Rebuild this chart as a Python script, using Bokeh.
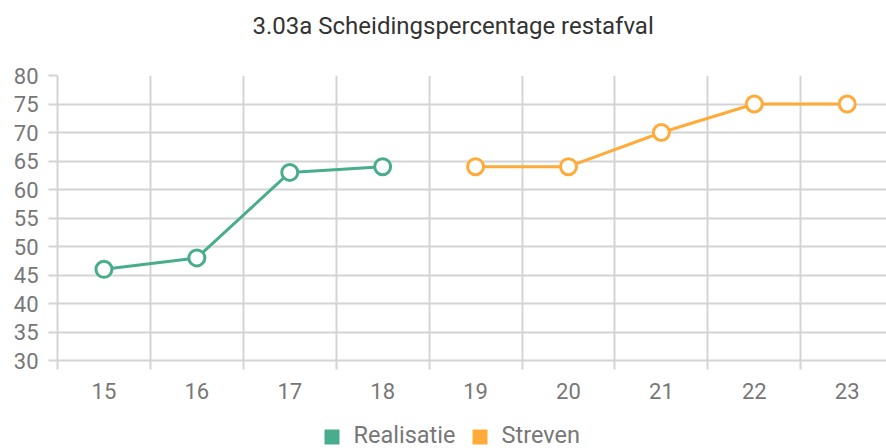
from bokeh.plotting import figure
from bokeh.models import Range1d, FixedTicker
from bokeh.layouts import column
from bokeh.core.properties import value
from bokeh.embed import file_html
from bokeh.resources import INLINE

# data
title_text = "3.03a Scheidingspercentage restafval"
categories = [15, 16, 17, 18, 19, 20, 21, 22, 23]
real_x = [15, 16, 17, 18]
real_y = [46, 48, 63, 64]
streven_x = [19, 20, 21, 22, 23]
streven_y = [64, 64, 70, 75, 75]
y_ticks = [30, 35, 40, 45, 50, 55, 60, 65, 70, 75, 80]
series_names = ["Realisatie", "Streven"]

GREEN = "#48ad8c"
ORANGE = "#ffab3a"
GRID = "#d4d4d4"
FONT = "Roboto"
W = 886
LEFT = 57


def blank(h):
    f = figure(width=W, height=h, output_backend="svg", toolbar_location=None,
               x_range=Range1d(LEFT, W), y_range=Range1d(h, 0),
               x_axis_type=None, y_axis_type=None,
               min_border_left=LEFT, min_border_right=0,
               min_border_top=0, min_border_bottom=0)
    f.outline_line_color = None
    f.grid.visible = False
    return f


# title strip
ft = blank(50)
ft.text(x=[252], y=[25], text=[title_text], text_font=value(FONT),
        text_font_size=value("24px"), text_color="#333333",
        text_align="left", text_baseline="middle")

# main chart
p = figure(width=W, height=364, output_backend="svg", toolbar_location=None,
           x_range=Range1d(14.5, 23.423), y_range=Range1d(30, 80),
           min_border_left=LEFT, min_border_right=0, min_border_top=25,
           min_border_bottom=54)
p.outline_line_color = None

half = [c - 0.5 for c in categories] + [categories[-1] + 0.5]
p.xaxis.ticker = FixedTicker(ticks=categories, minor_ticks=half)
p.xgrid.ticker = FixedTicker(ticks=half)
p.xaxis.major_tick_out = 0
p.xaxis.major_tick_in = 0
p.xaxis.minor_tick_out = 9
p.xaxis.minor_tick_in = 0
p.xaxis.minor_tick_line_color = GRID
p.xaxis.minor_tick_line_width = 2
p.xaxis.major_label_standoff = 13

p.yaxis.ticker = FixedTicker(ticks=y_ticks)
p.yaxis.major_tick_out = 9
p.yaxis.major_tick_in = 0
p.yaxis.minor_tick_line_color = None
p.yaxis.major_tick_line_color = GRID
p.yaxis.major_tick_line_width = 2
p.yaxis.major_label_standoff = 10

for ax in (p.xaxis, p.yaxis):
    ax.axis_line_color = GRID
    ax.axis_line_width = 2
    ax.major_label_text_font = FONT
    ax.major_label_text_font_size = "22px"
    ax.major_label_text_color = "#777777"

p.grid.grid_line_color = GRID
p.grid.grid_line_width = 2

p.line(real_x, real_y, line_color=GREEN, line_width=3)
p.scatter(real_x, real_y, marker="circle", size=16, fill_color="white",
          line_color=GREEN, line_width=3)
p.line(streven_x, streven_y, line_color=ORANGE, line_width=3)
p.scatter(streven_x, streven_y, marker="circle", size=16, fill_color="white",
          line_color=ORANGE, line_width=3)

# legend strip
fl = blank(34)
box_left = [324, 472]
colors = [GREEN, ORANGE]
fl.rect(x=[b + 7.5 for b in box_left], y=[22.5, 22.5], width=15, height=15,
        fill_color=colors, line_color=None)
fl.text(x=[b + 29 for b in box_left], y=[20, 20], text=series_names,
        text_font=value(FONT), text_font_size=value("23.5px"),
        text_color="#777777", text_align="left", text_baseline="middle")

layout = column(ft, p, fl, spacing=0)
open("out.html", "w").write(file_html(layout, INLINE))
